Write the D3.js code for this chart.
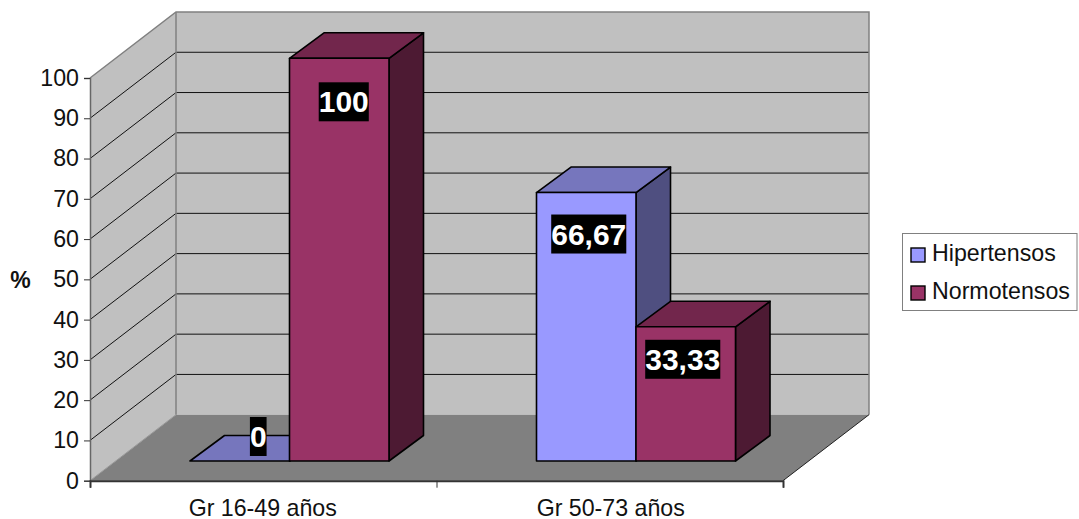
<!DOCTYPE html>
<html><head><meta charset="utf-8">
<script src="https://cdn.jsdelivr.net/npm/d3@7/dist/d3.min.js"></script>
<style>html,body{margin:0;padding:0;background:#fff}svg{display:block}text{font-family:"Liberation Sans",Arial,sans-serif}</style>
</head><body><svg id="c" width="1079" height="519"></svg>
<script>
const categories = ["Gr 16-49 años", "Gr 50-73 años"];
const seriesNames = ["Hipertensos", "Normotensos"];
const hipertensos = [0, 66.67];
const normotensos = [100, 33.33];
const labelsHipertensos = ["0", "66,67"];
const labelsNormotensos = ["100", "33,33"];
const yTicks = [0,10,20,30,40,50,60,70,80,90,100];

const svg = d3.select("#c");
const y = d3.scaleLinear().domain([0,100]).range([480.7,78]);
const x = d3.scaleBand().domain(categories).range([90,783]);
const depth = {dx:86, dy:-66};          // wall depth
const barOff = {dx:100, dy:-19.7};       // bar offset in the floor
const barDepth = {dx:34.5, dy:-25.5};
const barW = d3.scaleBand().domain(seriesNames).range([0,199]);
const fills = {
  Hipertensos:{front:"#9999ff",top:"#7676bd",side:"#4f4f80"},
  Normotensos:{front:"#993366",top:"#72264c",side:"#4d1a33"}
};
const poly = pts => pts.map(p=>p.join(",")).join(" ");
const x0 = 90, x1 = 783;
const axisFont = 23.2;

// walls and floor
svg.append("polygon").attr("points",poly([[x0,y(0)],[x0,y(100)],[x0+depth.dx,y(100)+depth.dy],[x0+depth.dx,y(0)+depth.dy]])).attr("fill","#c0c0c0");
svg.append("polygon").attr("points",poly([[x0+depth.dx,y(100)+depth.dy],[x1+depth.dx,y(100)+depth.dy],[x1+depth.dx,y(0)+depth.dy],[x0+depth.dx,y(0)+depth.dy]])).attr("fill","#c0c0c0");
svg.append("polygon").attr("points",poly([[x0,y(0)],[x1,y(0)],[x1+depth.dx,y(0)+depth.dy],[x0+depth.dx,y(0)+depth.dy]])).attr("fill","#808080");

// grid
yTicks.filter(t=>t>0&&t<100).forEach(t=>{
  svg.append("polyline").attr("points",poly([[x0,y(t)],[x0+depth.dx,y(t)+depth.dy],[x1+depth.dx,y(t)+depth.dy]]))
    .attr("fill","none").attr("stroke","#111").attr("stroke-width",1);
});
const edge = "#808080";
svg.append("polyline").attr("points",poly([[x0,y(100)],[x0+depth.dx,y(100)+depth.dy],[x1+depth.dx,y(100)+depth.dy],[x1+depth.dx,y(0)+depth.dy]])).attr("fill","none").attr("stroke",edge).attr("stroke-width",1.5);
svg.append("line").attr("x1",x0+depth.dx).attr("x2",x0+depth.dx).attr("y1",y(100)+depth.dy).attr("y2",y(0)+depth.dy).attr("stroke",edge).attr("stroke-width",1.5);
svg.append("line").attr("x1",x0).attr("x2",x0+depth.dx).attr("y1",y(0)).attr("y2",y(0)+depth.dy).attr("stroke","#999").attr("stroke-width",1);
svg.append("line").attr("x1",x1).attr("x2",x1+depth.dx).attr("y1",y(0)).attr("y2",y(0)+depth.dy).attr("stroke","#222").attr("stroke-width",1);

// bars
const rows = [];
seriesNames.forEach((s,si)=>categories.forEach((c,ci)=>{
  rows.push({s,c,si,ci,v:(si?normotensos:hipertensos)[ci],label:(si?labelsNormotensos:labelsHipertensos)[ci]});
}));
rows.sort((a,b)=>a.ci-b.ci);
const base = y(0)+barOff.dy;
const h = v => y(0)-y(v);
const gb = svg.append("g").attr("stroke","#000").attr("stroke-width",1.6).attr("stroke-linejoin","round");
rows.forEach(r=>{
  const l = x(r.c)+barOff.dx+barW(r.s), w = barW.bandwidth(), t = base-h(r.v), f = fills[r.s];
  gb.append("polygon").attr("fill",f.side).attr("points",poly([[l+w,base],[l+w,t],[l+w+barDepth.dx,t+barDepth.dy],[l+w+barDepth.dx,base+barDepth.dy]]));
  gb.append("polygon").attr("fill",f.top).attr("points",poly([[l,t],[l+w,t],[l+w+barDepth.dx,t+barDepth.dy],[l+barDepth.dx,t+barDepth.dy]]));
  if(r.v>0) gb.append("rect").attr("x",l).attr("y",t).attr("width",w).attr("height",h(r.v)).attr("fill",f.front);
});

// data labels: offset of each label centre from its bar's top centre, [series][category]
const labelNudge = [[[18.5,-24.5],[2.5,41.5]],[[4.5,43.5],[-3,32.5]]];
rows.forEach(r=>{
  const l = x(r.c)+barOff.dx+barW(r.s), w = barW.bandwidth(), t = base-h(r.v);
  const [nx,ny] = labelNudge[r.si][r.ci];
  const cx = l+w/2+nx, cy = t+ny;
  const g = svg.append("g");
  const tx = g.append("text").attr("x",cx).attr("y",cy+10.5).attr("text-anchor","middle")
    .attr("font-size",30).attr("font-weight","bold").attr("fill","#fff").text(r.label);
  const bw = tx.node().getComputedTextLength()+(r.v===0?0:0);
  g.insert("rect","text").attr("x",cx-bw/2).attr("y",cy-19.5).attr("width",bw).attr("height",39).attr("fill","#000");
});

// axes
const ax = d3.axisLeft(y).tickValues(yTicks).tickSize(6).tickPadding(5);
const gy = svg.append("g").attr("transform",`translate(${x0},0)`).call(ax);
const xa = d3.axisBottom(d3.scaleLinear().domain([0,2]).range([x0,x1])).tickValues([0,1,2]).tickSize(7).tickFormat("");
const gx = svg.append("g").attr("transform",`translate(0,${y(0)})`).call(xa);
[gy,gx].forEach(g=>{g.selectAll("text").attr("font-size",axisFont).attr("fill","#111").attr("font-family",'"Liberation Sans"');g.selectAll("line").attr("stroke","#333");});
gy.select(".domain").attr("stroke","#666").attr("stroke-width",1.5);
gx.select(".domain").attr("stroke","#333").attr("stroke-width",2);
categories.forEach((c,i)=>{
  svg.append("text").attr("x",x(c)+x.bandwidth()/2+(i?1:-0.5)).attr("y",515.5).attr("text-anchor","middle").attr("font-size",axisFont).attr("fill","#111").text(c);
});
svg.append("text").attr("x",20.5).attr("y",288).attr("text-anchor","middle").attr("font-size",23).attr("font-weight","bold").attr("fill","#111").text("%");

// legend
svg.append("rect").attr("x",902.5).attr("y",233.5).attr("width",174.5).attr("height",77).attr("fill","#fff").attr("stroke","#808080").attr("stroke-width",1);
const ly = d3.scalePoint().domain(seriesNames).range([255,293]);
seriesNames.forEach(s=>{
  svg.append("rect").attr("x",911).attr("y",ly(s)-7).attr("width",14).attr("height",14).attr("fill",fills[s].front).attr("stroke","#000").attr("stroke-width",1.4);
  svg.append("text").attr("x",932).attr("y",ly(s)+6).attr("font-size",axisFont).attr("fill","#111").text(s);
});
</script></body></html>
